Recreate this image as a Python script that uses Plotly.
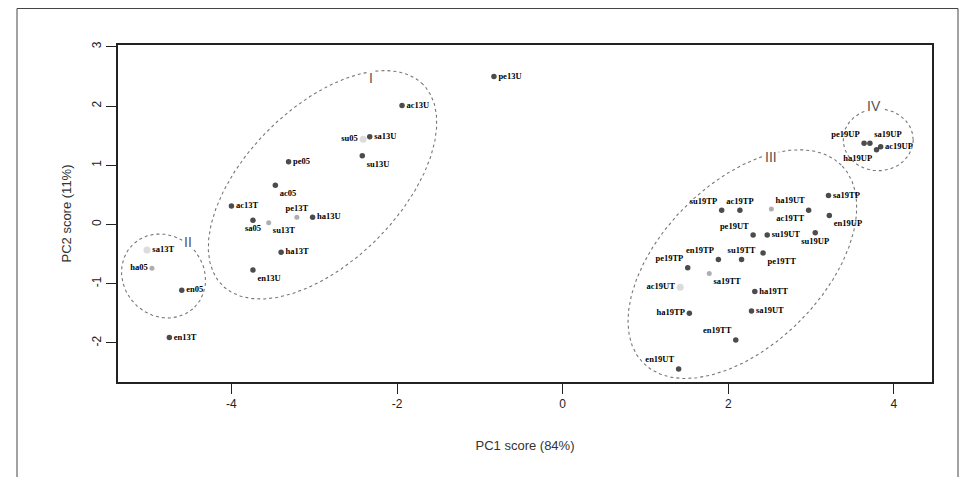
import numpy as np
import plotly.graph_objects as go

# ---- data (PCA scores) ----
labels = ["su05", "sa13U", "ac13U", "su13U", "pe05", "pe13U", "ac05", "ac13T",
          "pe13T", "ha13U", "sa05", "su13T", "ha13T", "en13U", "sa13T", "ha05",
          "en05", "en13T",
          "su19TP", "ac19TP", "pe19UT", "su19UT", "en19TP", "su19TT", "pe19TP",
          "sa19TT", "pe19TT", "ac19UT", "ha19UT", "sa19TP", "ac19TT", "en19UP",
          "su19UP", "ha19TT", "sa19UT", "ha19TP", "en19TT", "en19UT",
          "pe19UP", "sa19UP", "ha19UP", "ac19UP"]
pc1 = [-2.41, -2.33, -1.94, -2.42, -3.31, -0.83, -3.47, -4.00,
       -3.21, -3.02, -3.74, -3.55, -3.40, -3.74, -5.02, -4.96,
       -4.60, -4.75,
       1.92, 2.14, 2.30, 2.47, 1.88, 2.16, 1.51,
       1.77, 2.42, 1.42, 2.52, 3.21, 2.97, 3.22,
       3.05, 2.32, 2.28, 1.53, 2.09, 1.40,
       3.64, 3.71, 3.79, 3.84]
pc2 = [1.44, 1.48, 2.01, 1.16, 1.06, 2.50, 0.66, 0.31,
       0.12, 0.12, 0.07, 0.03, -0.47, -0.77, -0.43, -0.74,
       -1.11, -1.91,
       0.24, 0.24, -0.18, -0.18, -0.59, -0.59, -0.73,
       -0.83, -0.48, -1.06, 0.26, 0.49, 0.24, 0.15,
       -0.14, -1.13, -1.46, -1.50, -1.95, -2.44,
       1.37, 1.37, 1.26, 1.31]

x_ticks = [-4, -2, 0, 2, 4]
y_ticks = [-2, -1, 0, 1, 2, 3]
x_title = "PC1 score (84%)"
y_title = "PC2 score (11%)"

group_names = ["I", "II", "III", "IV"]

# ---- styling / layout (not data) ----
# page body has an 8px margin, so the figure is sized/offset to compensate
W, H = 952, 469
ML, MR, MT, MB = 110, 28, 37, 95
XR = [-5.37, 4.46]
YR = [-2.66, 3.03]
pxx = (W - ML - MR) / (XR[1] - XR[0])
pxy = (H - MT - MB) / (YR[1] - YR[0])

light = {"su05", "sa13T", "ac19UT"}
mid = {"ha05", "pe13T", "su13T", "sa19TT", "ha19UT"}
colors, sizes = [], []
for lb in labels:
    if lb in light:
        colors.append("#cdcdcd"); sizes.append(7)
    elif lb in mid:
        colors.append("#8c8c8c"); sizes.append(5)
    else:
        colors.append("#000000"); sizes.append(5.5)

tpos = {
    "su05": "middle left", "sa13U": "middle right", "ac13U": "middle right",
    "su13U": "bottom right", "pe05": "middle right", "pe13U": "middle right",
    "ac05": "bottom right", "ac13T": "middle right", "pe13T": "top center",
    "ha13U": "middle right", "sa05": "bottom center", "su13T": "bottom right",
    "ha13T": "middle right", "en13U": "bottom right", "sa13T": "middle right",
    "ha05": "middle left", "en05": "middle right", "en13T": "middle right",
    "su19TP": "top left", "ac19TP": "top center", "pe19UT": "top left",
    "su19UT": "middle right", "en19TP": "top left", "su19TT": "top center",
    "pe19TP": "top left", "sa19TT": "bottom right", "pe19TT": "bottom right",
    "ac19UT": "middle left", "ha19UT": "top right", "sa19TP": "middle right",
    "ac19TT": "bottom left", "en19UP": "bottom right", "su19UP": "bottom center",
    "ha19TT": "middle right", "sa19UT": "middle right", "ha19TP": "middle left",
    "en19TT": "top left", "en19UT": "top left", "pe19UP": "top left",
    "sa19UP": "top right", "ha19UP": "bottom left", "ac19UP": "middle right",
}

fig = go.Figure()

# dotted group ellipses (center in data units, semi-axes in px, angle deg)
ellipses = [
    ((-2.90, 0.67), 142, 77, 45),
    ((-4.82, -0.87), 44, 40, -45),
    ((2.17, -0.67), 140, 81, 45),
    ((3.81, 1.43), 35, 31, 0),
]
t = np.linspace(0, 2 * np.pi, 400)
for (cx, cy), a, b, ang in ellipses:
    th = np.radians(ang)
    dx = a * np.cos(t) * np.cos(th) - b * np.sin(t) * np.sin(th)
    dy = a * np.cos(t) * np.sin(th) + b * np.sin(t) * np.cos(th)
    fig.add_trace(go.Scatter(x=cx + dx / pxx, y=cy + dy / pxy, mode="lines",
                             line=dict(color="#777777", width=1.1, dash="dot"),
                             hoverinfo="skip", showlegend=False))

fig.add_trace(go.Scatter(
    x=pc1, y=pc2, mode="markers+text", text=labels,
    textposition=[tpos[l] for l in labels],
    textfont=dict(family="Liberation Serif", size=8.5, color="#000", weight="bold"),
    marker=dict(color=colors, size=sizes, line=dict(width=0)),
    showlegend=False))

grp_pos = [(-2.31, 2.47), (-4.53, -0.30), (2.52, 1.14), (3.76, 2.00)]
for name, (gx, gy) in zip(group_names, grp_pos):
    fig.add_annotation(x=gx, y=gy, text=name, showarrow=False,
                       font=dict(family="Liberation Sans", size=14, color="#555"),
                       bgcolor="white", borderpad=1)

# outer figure frame (left, top, right)
PW, PH = W - ML - MR, H - MT - MB
x0p = (9 - ML) / PW
x1p = (950 - ML) / PW
y1p = (H - MB - 0.5) / PH
y0p = -MB / PH - 0.05
fig.add_shape(type="path", xref="paper", yref="paper",
              path=f"M {x0p} {y0p} L {x0p} {y1p} L {x1p} {y1p} L {x1p} {y0p}",
              line=dict(color="#444", width=1))

axis_common = dict(showgrid=False, zeroline=False, showline=True, mirror=True,
                   linecolor="#222", linewidth=2, ticks="outside", ticklen=10,
                   tickwidth=1.2, tickcolor="#222",
                   tickfont=dict(family="Liberation Sans", size=12, color="#222"))
fig.update_layout(
    width=W, height=H, margin=dict(l=ML, r=MR, t=MT, b=MB),
    plot_bgcolor="white", paper_bgcolor="white",
    xaxis=dict(range=XR, tickvals=x_ticks, ticktext=[str(v) for v in x_ticks],
               title=dict(text=x_title, standoff=30,
                          font=dict(family="Liberation Sans", size=13, color="#333")),
               **axis_common),
    yaxis=dict(range=YR, tickvals=y_ticks, ticktext=[str(v) for v in y_ticks],
               tickangle=-90,
               title=dict(text=y_title, standoff=16,
                          font=dict(family="Liberation Sans", size=13, color="#333")),
               **axis_common),
)

fig.write_html("out.html")
